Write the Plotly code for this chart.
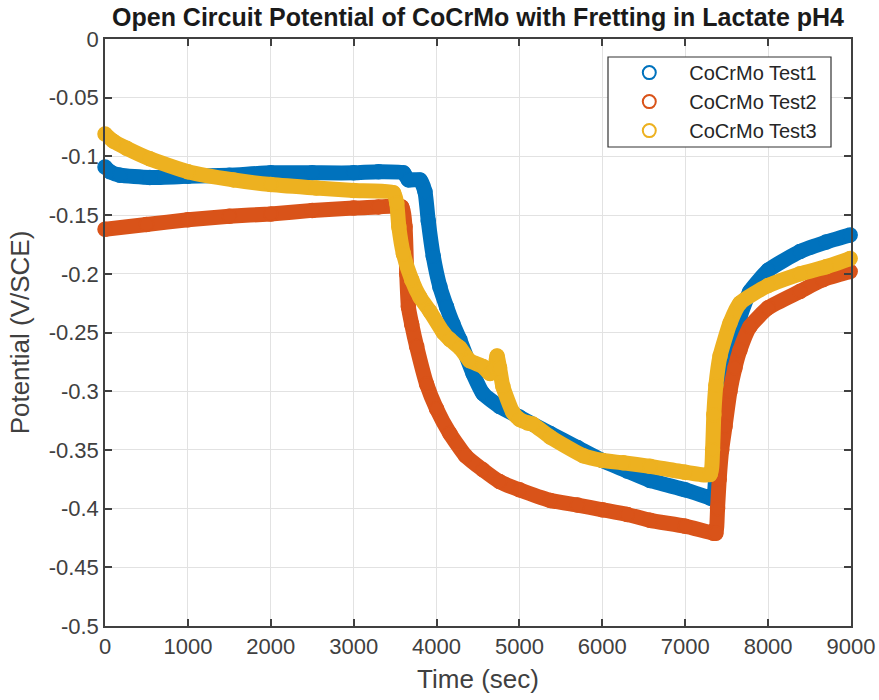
import plotly.graph_objects as go

# Open circuit potential (V vs SCE) against time (s) for three CoCrMo tests
t1 = [0, 60, 180, 540, 1000, 1500, 2000, 2500, 3000, 3300, 3600, 3660, 3800, 3860,
      3900, 3960, 4040, 4120, 4200, 4280, 4440, 4560, 4760, 5000, 5370, 5700, 6000,
      6300, 6575, 7000, 7300, 7340, 7370, 7400, 7450, 7520, 7580, 7660, 7780, 8000,
      8385, 8700, 8990]
v1 = [-0.109, -0.113, -0.116, -0.118, -0.117, -0.116, -0.114, -0.114, -0.114, -0.113,
      -0.114, -0.120, -0.120, -0.130, -0.155, -0.185, -0.211, -0.228, -0.243, -0.256,
      -0.285, -0.302, -0.313, -0.322, -0.336, -0.348, -0.359, -0.368, -0.376, -0.384,
      -0.391, -0.392, -0.370, -0.345, -0.315, -0.285, -0.262, -0.237, -0.215, -0.197,
      -0.181, -0.173, -0.167]

t2 = [0, 500, 1000, 1500, 2000, 2500, 3000, 3300, 3580, 3620, 3640, 3660, 3700, 3760,
      3880, 4000, 4160, 4350, 4560, 4760, 5000, 5370, 5700, 6000, 6300, 6575,
      7000, 7340, 7370, 7390, 7410, 7440, 7480, 7540, 7600, 7660, 7780, 8000, 8385,
      8660, 8990]
v2 = [-0.162, -0.158, -0.154, -0.151, -0.149, -0.146, -0.144, -0.143, -0.143, -0.160,
      -0.200, -0.228, -0.243, -0.262, -0.294, -0.315, -0.336, -0.355, -0.367,
      -0.377, -0.384, -0.393, -0.397, -0.401, -0.405, -0.410, -0.415, -0.421, -0.421,
      -0.400, -0.375, -0.350, -0.330, -0.300, -0.280, -0.265, -0.245, -0.229, -0.215,
      -0.205, -0.198]

t3 = [0, 100, 260, 540, 1000, 1550, 2000, 2550, 3000, 3480, 3520, 3545, 3600, 3700,
      3800, 3920, 4080, 4160, 4280, 4400, 4560, 4645, 4700, 4730, 4760, 4800, 4920,
      5000, 5100, 5160, 5370, 5770, 6000, 6250, 6575, 7000, 7300, 7330, 7345, 7370,
      7420, 7540, 7660, 8000, 8385, 8700, 8990]
v3 = [-0.081, -0.087, -0.093, -0.102, -0.113, -0.120, -0.124, -0.127, -0.129, -0.131,
      -0.140, -0.160, -0.183, -0.205, -0.220, -0.232, -0.250, -0.256, -0.263, -0.274,
      -0.279, -0.285, -0.280, -0.270, -0.280, -0.296, -0.318, -0.324, -0.327, -0.328,
      -0.339, -0.355, -0.359, -0.361, -0.364, -0.369, -0.371, -0.350, -0.320, -0.295,
      -0.270, -0.242, -0.225, -0.210, -0.200, -0.194, -0.187]

names = ["CoCrMo Test1", "CoCrMo Test2", "CoCrMo Test3"]
colors = ["#0072BD", "#D95319", "#EDB120"]

x_ticks = [0, 1000, 2000, 3000, 4000, 5000, 6000, 7000, 8000, 9000]
x_labels = ["0", "1000", "2000", "3000", "4000", "5000", "6000", "7000", "8000", "9000"]
y_ticks = [0, -0.05, -0.1, -0.15, -0.2, -0.25, -0.3, -0.35, -0.4, -0.45, -0.5]
y_labels = ["0", "-0.05", "-0.1", "-0.15", "-0.2", "-0.25", "-0.3", "-0.35", "-0.4",
            "-0.45", "-0.5"]

FONT = "Liberation Sans, Arial, Helvetica, sans-serif"
AXIS_COLOR = "#404040"

fig = go.Figure()

# Dense circle markers rendered as a thick band
for t, v, c in zip([t1, t2, t3], [v1, v2, v3], colors):
    fig.add_trace(go.Scatter(
        x=t, y=v, mode="lines+markers", showlegend=False, hoverinfo="skip",
        cliponaxis=False,
        line=dict(color=c, width=15, shape="spline", smoothing=0.5),
        marker=dict(symbol="circle", size=14, color=c, line=dict(color=c, width=1.5)),
    ))

# Legend entries: open circles
for i, (n, c) in enumerate(zip(names, colors)):
    fig.add_trace(go.Scatter(
        x=[None], y=[None], mode="markers", name=n, legendgroup=f"g{i}",
        marker=dict(symbol="circle-open", size=13, color=c, line=dict(color=c, width=2)),
    ))

axis_common = dict(
    showline=True, linecolor=AXIS_COLOR, linewidth=1.5, mirror="ticks",
    ticks="inside", ticklen=7, tickwidth=1.5, tickcolor=AXIS_COLOR,
    showgrid=True, gridcolor="#e2e2e2", gridwidth=1, zeroline=False,
    automargin=False,
    tickfont=dict(family=FONT, size=22, color=AXIS_COLOR),
)

fig.update_layout(
    width=879, height=700,
    margin=dict(l=105, r=28, t=39, b=74),
    paper_bgcolor="white", plot_bgcolor="white",
    title=dict(
        text="<b>Open Circuit Potential of CoCrMo with Fretting in Lactate pH4</b>",
        font=dict(family=FONT, size=25, color="#1a1a1a"),
        x=0.5, xref="paper", xanchor="center", y=0.975, yanchor="middle",
    ),
    xaxis=dict(range=[0, 9000], tickvals=x_ticks, ticktext=x_labels,
               title=dict(text="Time (sec)", font=dict(family=FONT, size=26, color=AXIS_COLOR),
                          standoff=12),
               **axis_common),
    yaxis=dict(range=[-0.5, 0], tickvals=y_ticks, ticktext=y_labels,
               title=dict(text="Potential (V/SCE)", font=dict(family=FONT, size=26, color=AXIS_COLOR),
                          standoff=12),
               **axis_common),
    legend=dict(
        x=0.676, y=0.976, xanchor="left", yanchor="top",
        bgcolor="rgba(0,0,0,0)", borderwidth=0,
        font=dict(family=FONT, size=20, color="#262626"),
        traceorder="grouped", tracegroupgap=0, itemwidth=70,
    ),
    shapes=[dict(type="rect", xref="paper", yref="paper",
                 x0=(608 - 105) / 746, x1=(831 - 105) / 746,
                 y0=1 - (147 - 39) / 587, y1=1 - (57 - 39) / 587,
                 line=dict(color="#333333", width=1.2), fillcolor="white", layer="above")],
)

fig.write_html("out.html")
